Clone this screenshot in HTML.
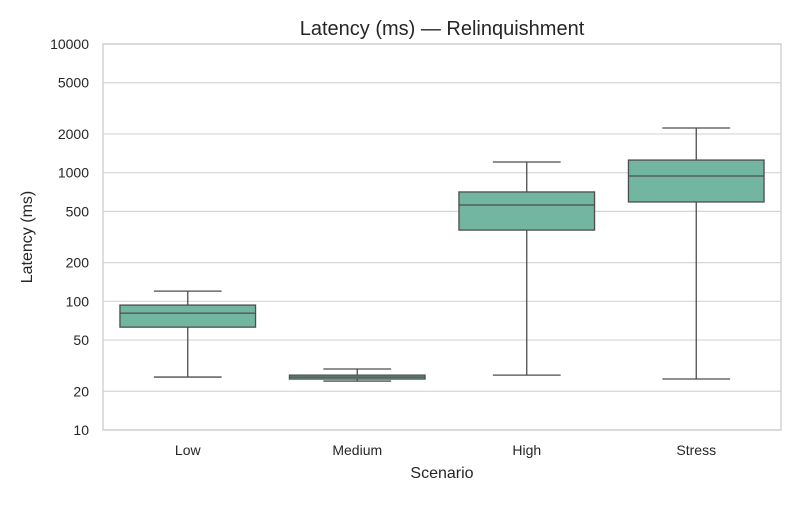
<!DOCTYPE html>
<html><head><meta charset="utf-8"><style>
body{margin:0;background:#fff;font-family:"Liberation Sans","DejaVu Sans",sans-serif}
</style></head><body>
<svg id="chart" width="800" height="500" xmlns="http://www.w3.org/2000/svg">
<text x="442" y="35" text-anchor="middle" font-size="20" fill="#262626">Latency (ms) — Relinquishment</text>
<text x="442" y="478" text-anchor="middle" font-size="16" fill="#262626">Scenario</text>
<text transform="translate(32,237) rotate(-90)" text-anchor="middle" font-size="16" fill="#262626">Latency (ms)</text>
<g id="grid"></g><g id="boxes"></g><g id="labels"></g>
<rect x="103" y="44" width="678" height="386" fill="none" stroke="#cccccc" stroke-width="1.3"/>
</svg>
<script>
const categories=["Low","Medium","High","Stress"];
const whiskerLow=[25.8,24,26.7,24.9];
const q1=[63,24.9,358,592];
const median=[81,25.8,561,942];
const q3=[93.5,26.7,708,1253];
const whiskerHigh=[120,29.8,1211,2223];
const yTicks=[10,20,50,100,200,500,1000,2000,5000,10000];
const NS="http://www.w3.org/2000/svg";
const x0=103,x1=781,yTop=44,yBot=430;
function y(v){return yBot-(Math.log10(v)-1)/3*(yBot-yTop);}
const band=(x1-x0)/categories.length;
function xc(i){return x0+band*(i+0.5);}
function mk(tag,attrs,parent){const e=document.createElementNS(NS,tag);for(const k in attrs)e.setAttribute(k,attrs[k]);parent.appendChild(e);return e;}
const grid=document.getElementById('grid'),boxes=document.getElementById('boxes'),labels=document.getElementById('labels');
yTicks.forEach(t=>{
 const l=mk('line',{x1:x0,x2:x1,y1:y(t),y2:y(t),stroke:'#d6d6d6','stroke-width':1.2},grid);
 
 
 const tx=mk('text',{x:89,y:y(t)+5,'text-anchor':'end','font-size':14,fill:'#262626'},labels);
 tx.textContent=t;
 
 
});
const bw=band*0.8,cap=bw/2,st='#4d4d4d';
categories.forEach((c,i)=>{
 const cx=xc(i);
 const g=mk('g',{},boxes);
 
 
 mk('line',{x1:cx,x2:cx,y1:y(whiskerLow[i]),y2:y(q1[i]),stroke:st,'stroke-width':1.3},g);
 mk('line',{x1:cx,x2:cx,y1:y(q3[i]),y2:y(whiskerHigh[i]),stroke:st,'stroke-width':1.3},g);
 mk('line',{x1:cx-cap/2,x2:cx+cap/2,y1:y(whiskerLow[i]),y2:y(whiskerLow[i]),stroke:st,'stroke-width':1.3},g);
 mk('line',{x1:cx-cap/2,x2:cx+cap/2,y1:y(whiskerHigh[i]),y2:y(whiskerHigh[i]),stroke:st,'stroke-width':1.3},g);
 mk('rect',{x:cx-bw/2,y:y(q3[i]),width:bw,height:y(q1[i])-y(q3[i]),fill:'#72b6a1',stroke:st,'stroke-width':1.3},g);
 mk('line',{x1:cx-bw/2,x2:cx+bw/2,y1:y(median[i]),y2:y(median[i]),stroke:st,'stroke-width':1.3},g);
 const tx=mk('text',{x:cx,y:455,'text-anchor':'middle','font-size':14,fill:'#262626'},labels);
 tx.textContent=c;
 
 
});
</script>
</body></html>
